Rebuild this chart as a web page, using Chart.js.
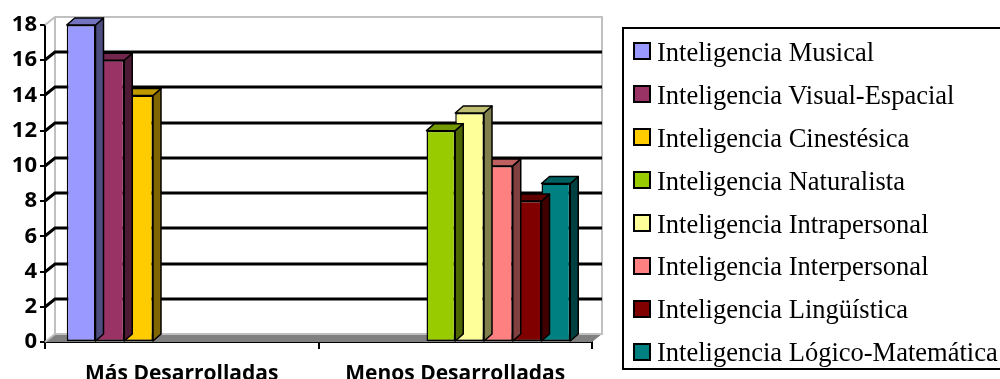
<!DOCTYPE html>
<html>
<head>
<meta charset="utf-8">
<script src="https://cdn.jsdelivr.net/npm/chart.js@4.4.1/dist/chart.umd.min.js"></script>
<style>
  html, body { margin: 0; padding: 0; background: #fff; overflow: hidden; }
  #wrap { position: relative; width: 1000px; height: 379px; overflow: hidden; }
  #legend {
    position: absolute; left: 622px; top: 27px; width: 500px; height: 337px;
    border: 2px solid #000; box-sizing: content-box; padding-top: 2px;
    font-family: 'Liberation Serif', 'Times New Roman', serif; font-size: 26.5px; color: #000;
  }
  .item { display: flex; align-items: center; height: 42.9px; white-space: nowrap; }
  .box { width: 14px; height: 14px; border: 2px solid #000; margin-left: 9px; margin-right: 6px; margin-top: -2px; }
</style>
</head>
<body>
<div id="wrap">
  <canvas id="chart" width="1000" height="379"></canvas>
  <div id="legend"></div>
</div>
<script>
const categories = ['Más Desarrolladas', 'Menos Desarrolladas'];
const seriesNames = [
  'Inteligencia Musical',
  'Inteligencia Visual-Espacial',
  'Inteligencia Cinestésica',
  'Inteligencia Naturalista',
  'Inteligencia Intrapersonal',
  'Inteligencia Interpersonal',
  'Inteligencia Lingüística',
  'Inteligencia Lógico-Matemática'
];
const masDesarrolladas = [18, 16, 14, null, null, null, null, null];
const menosDesarrolladas = [null, null, null, 12, 13, 10, 8, 9];
const yMin = 0;
const yMax = 18;
const yStep = 2;

const fills = ['#9999FF', '#993366', '#FFCC00', '#99CC00', '#FFFF99', '#FF8080', '#800000', '#008080'];
const tops  = ['#7373BF', '#73264D', '#BF9900', '#739900', '#BFBF73', '#BF6060', '#600000', '#006060'];
const sides = ['#4D4D80', '#4D1A33', '#806600', '#4D6600', '#80804D', '#804040', '#400000', '#004040'];

// back wall, floor and gridlines drawn behind the bars
const wallPlugin = {
  id: 'wall3d',
  beforeDatasetsDraw(chart) {
    const { ctx, chartArea: { left, right, top, bottom }, scales: { y } } = chart;
    const dx = 10, dy = -8;
    ctx.save();
    ctx.fillStyle = '#808080';
    ctx.beginPath();
    ctx.moveTo(left, bottom);
    ctx.lineTo(right, bottom);
    ctx.lineTo(right + dx, bottom + dy);
    ctx.lineTo(left + dx, bottom + dy);
    ctx.closePath();
    ctx.fill();

    ctx.strokeStyle = '#C0C0C0';
    ctx.lineWidth = 2;
    ctx.beginPath();
    ctx.moveTo(left, top);
    ctx.lineTo(left + dx, top + dy);
    ctx.lineTo(right + dx, top + dy);
    ctx.lineTo(right + dx, bottom + dy);
    ctx.lineTo(left + dx, bottom + dy);
    ctx.lineTo(left + dx, top + dy);
    ctx.moveTo(left, bottom);
    ctx.lineTo(left + dx, bottom + dy);
    ctx.stroke();

    ctx.strokeStyle = '#000';
    ctx.lineWidth = 3;
    y.ticks.forEach(t => {
      if (t.value === yMin || t.value === yMax) return;
      const py = Math.round(y.getPixelForValue(t.value));
      ctx.beginPath();
      ctx.moveTo(left, py);
      ctx.lineTo(left + dx, py + dy);
      ctx.lineTo(right + dx, py + dy);
      ctx.stroke();
    });
    ctx.restore();
  },
  afterDatasetDraw(chart, args) {
    const { ctx } = chart;
    const i = args.index;
    const bx = 8, by = -7;
    ctx.save();
    ctx.strokeStyle = '#000';
    ctx.lineWidth = 1.5;
    ctx.lineJoin = 'round';
    args.meta.data.forEach((bar, j) => {
      if (chart.data.datasets[i].data[j] == null) return;
      const { x, y, width, base } = bar.getProps(['x', 'y', 'width', 'base'], true);
      const l = x - width / 2, r = x + width / 2;
      ctx.fillStyle = sides[i];
      ctx.beginPath();
      ctx.moveTo(r, y);
      ctx.lineTo(r + bx, y + by);
      ctx.lineTo(r + bx, base + by);
      ctx.lineTo(r, base);
      ctx.closePath();
      ctx.fill();
      ctx.stroke();
      ctx.fillStyle = tops[i];
      ctx.beginPath();
      ctx.moveTo(l, y);
      ctx.lineTo(l + bx, y + by);
      ctx.lineTo(r + bx, y + by);
      ctx.lineTo(r, y);
      ctx.closePath();
      ctx.fill();
      ctx.stroke();
    });
    ctx.restore();
  }
};

const chart = new Chart(document.getElementById('chart'), {
  type: 'bar',
  data: {
    labels: categories,
    datasets: seriesNames.map((name, i) => ({
      label: name,
      data: [masDesarrolladas[i], menosDesarrolladas[i]],
      backgroundColor: fills[i],
      borderColor: '#000',
      borderWidth: 1.5,
      borderSkipped: false,
      barPercentage: 1,
      categoryPercentage: 0.841
    }))
  },
  options: {
    responsive: false,
    animation: false,
    layout: { padding: { top: 25, right: 408, left: 0, bottom: 0 } },
    plugins: { legend: { display: false }, tooltip: { enabled: false } },
    scales: {
      x: {
        grid: { offset: true, drawOnChartArea: false, color: '#000', lineWidth: 2, tickLength: 7 },
        border: { color: '#000', width: 2 },
        ticks: { color: '#000', padding: 12, font: { family: 'Open Sans', weight: 'bold', size: 21 } },
        afterFit(scale) { scale.height = 37; }
      },
      y: {
        min: yMin,
        max: yMax,
        grid: { drawOnChartArea: false, color: '#000', lineWidth: 2, tickLength: 5 },
        border: { color: '#000', width: 2 },
        ticks: { stepSize: yStep, color: '#000', padding: 3, font: { family: 'Open Sans', weight: 'bold', size: 22 } },
        afterFit(scale) { scale.width = 45; }
      }
    }
  },
  plugins: [wallPlugin]
});

const legend = document.getElementById('legend');
chart.data.datasets.forEach(ds => {
  const item = document.createElement('div');
  item.className = 'item';
  const box = document.createElement('span');
  box.className = 'box';
  box.style.background = ds.backgroundColor;
  const text = document.createElement('span');
  text.textContent = ds.label;
  item.appendChild(box);
  item.appendChild(text);
  legend.appendChild(item);
});
</script>
</body>
</html>
